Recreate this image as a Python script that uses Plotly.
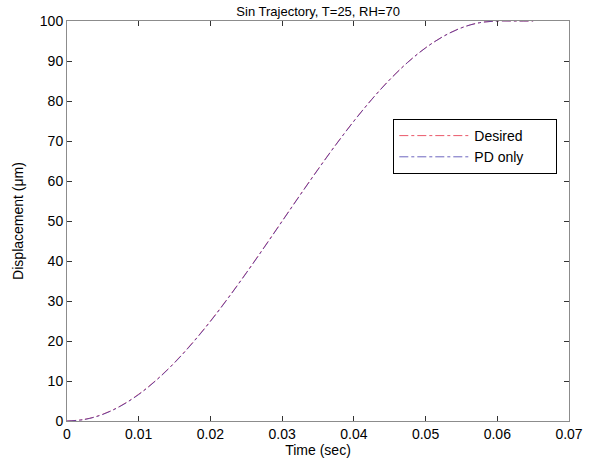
import plotly.graph_objects as go

time_s = [0, 0.0025, 0.005, 0.0075, 0.01, 0.0125, 0.015, 0.0175, 0.02, 0.0225,
          0.025, 0.0275, 0.03, 0.0325, 0.035, 0.0375, 0.04, 0.0425, 0.045, 0.0475,
          0.05, 0.0525, 0.055, 0.0575, 0.06, 0.0625, 0.065]
desired = [0, 0.43, 1.70, 3.81, 6.70, 10.33, 14.64, 19.56, 25.0, 30.87,
           37.06, 43.47, 50.0, 56.53, 62.94, 69.13, 75.0, 80.44, 85.36, 89.67,
           93.30, 96.19, 98.30, 99.57, 100.0, 100.0, 100.0]
pd_only = [0, 0.40, 1.65, 3.75, 6.62, 10.25, 14.55, 19.47, 24.90, 30.78,
           36.97, 43.38, 49.91, 56.45, 62.86, 69.06, 74.93, 80.38, 85.31, 89.63,
           93.27, 96.17, 98.29, 99.56, 99.99, 100.0, 100.0]
series_names = ["Desired", "PD only"]

x_ticks = [0, 0.01, 0.02, 0.03, 0.04, 0.05, 0.06, 0.07]
x_labels = ["0", "0.01", "0.02", "0.03", "0.04", "0.05", "0.06", "0.07"]
y_ticks = [0, 10, 20, 30, 40, 50, 60, 70, 80, 90, 100]

pad = "\u00a0" * 7
fig = go.Figure()
fig.add_trace(go.Scatter(x=time_s, y=desired, mode="lines", name=series_names[0] + pad,
                         line=dict(color="rgba(230,60,80,0.85)", width=1, dash="dashdot", shape="spline")))
fig.add_trace(go.Scatter(x=time_s, y=pd_only, mode="lines", name=series_names[1] + pad,
                         line=dict(color="rgba(60,50,170,0.75)", width=1, dash="dashdot", shape="spline")))

font = "Liberation Sans, Arial, sans-serif"
axis_common = dict(showgrid=False, zeroline=False, showline=True, linecolor="#8c8c8c",
                   linewidth=1, mirror="ticks", ticks="inside", ticklen=5,
                   tickcolor="#333333", automargin=False,
                   tickfont=dict(size=14, color="black", family=font))

fig.update_layout(
    width=598, height=466,
    margin=dict(l=67, r=29, t=21, b=45),
    paper_bgcolor="white", plot_bgcolor="white",
    title=dict(text="Sin Trajectory, T=25, RH=70", x=0.532, xanchor="center",
               y=0.976, yanchor="middle", pad=dict(t=0, b=0),
               font=dict(size=13, color="black", family=font)),
    xaxis=dict(range=[0, 0.07], tickvals=x_ticks, ticktext=x_labels,
               title=dict(text="Time (sec)", standoff=2,
                          font=dict(size=14, color="black", family=font)),
               **axis_common),
    yaxis=dict(range=[0, 100], tickvals=y_ticks,
               title=dict(text="Displacement (μm)", standoff=12,
                          font=dict(size=14, color="black", family=font)),
               **axis_common),
    legend=dict(x=0.65, y=0.755, xanchor="left", yanchor="top",
                bgcolor="white", bordercolor="black", borderwidth=1,
                font=dict(size=14, color="black", family=font),
                itemwidth=70, tracegroupgap=0),
    showlegend=True,
)

# remove the default 8px page margin so the 598x466 figure fills the window exactly
fig.write_html("out.html", config={"displayModeBar": False},
               post_script="document.body.style.margin='0';document.body.style.overflow='hidden';")
